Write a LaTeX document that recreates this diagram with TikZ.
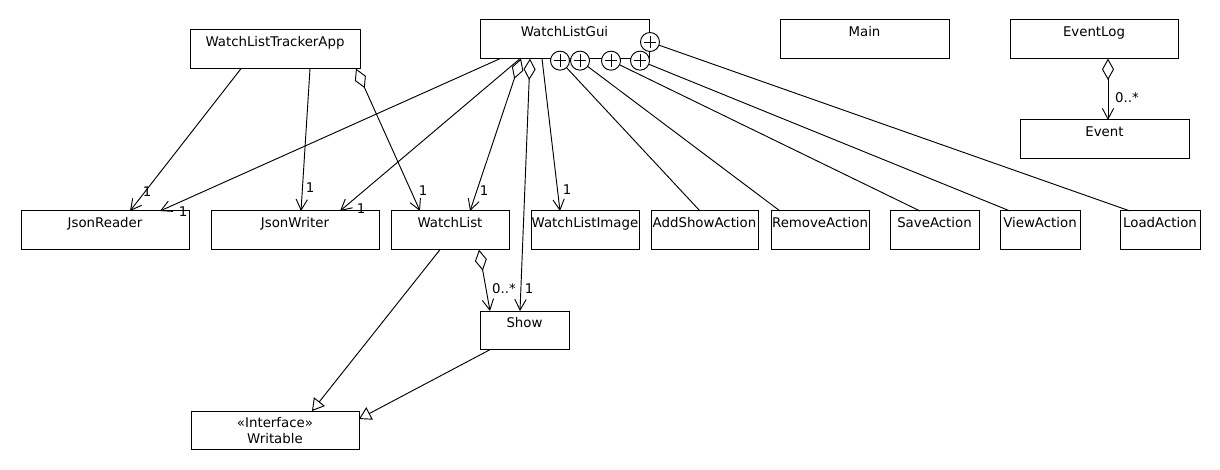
\documentclass[tikz,border=0pt]{standalone}
\usepackage{fontspec}
\setmainfont{DejaVu Sans}
\usetikzlibrary{arrows.meta,calc}
\tikzset{
  cls/.style={draw, line width=0.75pt, anchor=north west, inner xsep=0pt, inner ysep=0pt, outer sep=0pt, text height=12.2pt, text depth=16.8pt},
  iface/.style={draw, line width=0.75pt, anchor=north west, inner sep=0pt, outer sep=0pt, minimum height=29pt, align=center},
  lbl/.style={inner sep=0pt, anchor=center},
  conn/.style={line width=0.7pt},
  assoc/.style={conn, -{Straight Barb[length=8pt,width=8.5pt]}},
  agg/.style={conn, arrows={Diamond[open,length=16pt,width=9pt]}-{Straight Barb[length=8pt,width=8.5pt]}},
  gen/.style={conn, -{Triangle[open,length=9pt,width=10.5pt]}},
  nest/.style={circle, draw, line width=0.7pt, fill=white, minimum size=14.25pt, inner sep=0pt, outer sep=0pt,
    path picture={
      \draw[line width=0.7pt] ([xshift=-4.8pt]path picture bounding box.center) -- ([xshift=4.8pt]path picture bounding box.center);
      \draw[line width=0.7pt] ([yshift=-4.8pt]path picture bounding box.center) -- ([yshift=4.8pt]path picture bounding box.center);
    }},
}
\begin{document}
\begin{tikzpicture}[x=0.75pt,y=-0.75pt, font=\fontsize{10}{12}\selectfont]
\fill[white] (0,0) rectangle (1220,470);
\useasboundingbox (0,0) rectangle (1220,470);

% classes
\node[cls, minimum width=127.5pt] (app) at (190,30) {WatchListTrackerApp};
\node[cls, minimum width=126.75pt] (gui) at (480,20) {WatchListGui};
\node[cls, minimum width=126.75pt] (main) at (780,20) {Main};
\node[cls, minimum width=126pt] (eventlog) at (1010,20) {EventLog};
\node[cls, minimum width=126.75pt] (event) at (1020,120) {Event};

\node[cls, minimum width=126pt] (jreader) at (21,211) {JsonReader};
\node[cls, minimum width=126pt] (jwriter) at (211,211) {JsonWriter};
\node[cls, minimum width=88.5pt] (wlist) at (391,211) {WatchList};
\node[cls, minimum width=81pt] (wimage) at (531,211) {WatchListImage};
\node[cls, minimum width=80.25pt] (addshow) at (651,211) {AddShowAction};
\node[cls, minimum width=73.5pt] (remove) at (771,211) {RemoveAction};
\node[cls, minimum width=66.75pt] (save) at (890,211) {SaveAction};
\node[cls, minimum width=60pt] (view) at (1000,211) {ViewAction};
\node[cls, minimum width=60pt] (load) at (1120,211) {LoadAction};

\node[cls, minimum width=66.75pt] (show) at (480,311) {Show};
\node[iface, minimum width=126pt] (writable) at (191,411) {«Interface»\\Writable};

% associations from WatchListTrackerApp
\draw[assoc] ($(app.south west)+(51,0)$) -- ($(jreader.north west)+(109,0)$);
\draw[assoc] ($(app.south west)+(120,0)$) -- ($(jwriter.north west)+(90,0)$);
\draw[agg] ($(app.south west)+(166,0)$) -- ($(wlist.north west)+(29,0)$);

% associations from WatchListGui
\draw[assoc] ($(gui.south west)+(20,0)$) -- ($(jreader.north west)+(139,0)$);
\draw[assoc] ($(gui.south west)+(40,0)$) -- ($(jwriter.north west)+(129,0)$);
\draw[agg] ($(gui.south west)+(41,0)$) -- ($(wlist.north west)+(79,0)$);
\draw[agg] ($(gui.south west)+(50,0)$) -- ($(show.north west)+(40,0)$);
\draw[assoc] ($(gui.south west)+(62,0)$) -- ($(wimage.north west)+(29,0)$);

% nested classes
\node[nest] (c1) at ($(gui.south west)+(80,2)$) {};
\node[nest] (c2) at ($(gui.south west)+(100,2)$) {};
\node[nest] (c3) at ($(gui.south west)+(131,2)$) {};
\node[nest] (c4) at ($(gui.south west)+(160,2)$) {};
\node[nest] (c5) at ($(gui.north east)+(1,22)$) {};
\draw[conn] (c1) -- ($(addshow.north west)+(49,0)$);
\draw[conn] (c2) -- ($(remove.north west)+(9,0)$);
\draw[conn] (c3) -- ($(save.north west)+(30,0)$);
\draw[conn] (c4) -- ($(view.north west)+(10,0)$);
\draw[conn] (c5) -- ($(load.north west)+(10,0)$);

% WatchList
\draw[agg] ($(wlist.south west)+(88,0)$) -- ($(show.north west)+(10,0)$);
\draw[gen] ($(wlist.south west)+(49,0)$) -- ($(writable.north west)+(121,0)$);
\draw[gen] ($(show.south west)+(10,0)$) -- ($(writable.north east)+(0,8)$);

% EventLog
\draw[agg] ($(eventlog.south west)+(98,0)$) -- ($(event.north west)+(88,0)$);

% multiplicities
\node[lbl] (m1) at (147,192) {1};
\node[lbl] (m2) at (310,188) {1};
\node[lbl] (m3) at (423,191) {1};
\node[lbl] (m4) at (183,212) {1};
\node[lbl] (m5) at (361,209) {1};
\node[lbl] (m6) at (484,191) {1};
\node[lbl] (m7) at (529,289) {1};
\node[lbl] (m8) at (567,190) {1};
\node[lbl] (m9) at (504,289) {0..*};
\node[lbl] (m10) at (1127,98) {0..*};
\end{tikzpicture}
\end{document}
